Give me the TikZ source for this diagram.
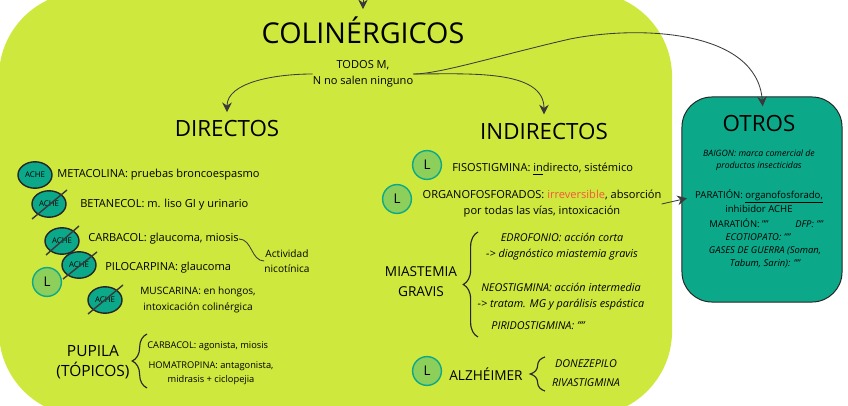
\documentclass[tikz,border=0pt]{standalone}
\usepackage{fontspec}
\setmainfont{Open Sans}
\usetikzlibrary{shapes.geometric, positioning, arrows.meta, decorations.pathreplacing}
\definecolor{panelgreen}{HTML}{CFE83D}
\definecolor{tealbox}{HTML}{0BA98A}
\definecolor{leafgreen}{HTML}{8CCF5A}
\definecolor{arrowgray}{HTML}{3A3A3A}
\definecolor{redword}{HTML}{F2583A}

\begin{document}
\begin{tikzpicture}[
    x=0.025cm, y=-0.025cm,
    panel/.style={draw=none, fill=panelgreen, rectangle, rounded corners=2.125cm, minimum width=16.825cm, minimum height=10.6cm},
    otrosbox/.style={draw=black!85, line width=0.7pt, fill=tealbox, rectangle, rounded corners=0.75cm, minimum width=4cm, minimum height=5.125cm},
    enzyme/.style={draw=black!85, line width=1pt, fill=tealbox, ellipse, minimum width=0.85cm, minimum height=0.66cm, inner sep=0, font=\fontsize{5.6}{6}\selectfont},
    leaf/.style={draw=tealbox, line width=1pt, fill=leafgreen, circle, minimum size=0.72cm, inner sep=0, font=\fontsize{9.5}{10}\selectfont},
    maintitle/.style={inner sep=0, font=\fontsize{20.4}{23}\selectfont},
    subtitle/.style={inner sep=0, font=\fontsize{15.9}{18}\selectfont},
    group/.style={inner sep=0, align=center, font=\fontsize{9.7}{14.2}\selectfont},
    pupilagroup/.style={inner sep=0, align=center, font=\fontsize{11}{14.4}\selectfont},
    body/.style={inner sep=0, align=center, font=\fontsize{7.87}{11.4}\selectfont},
    note/.style={inner sep=0, align=center, font=\fontsize{7.2}{11}\selectfont},
    bodyit/.style={inner sep=0, align=center, font=\fontsize{7.7}{11.4}\selectfont\itshape},
    small/.style={inner sep=0, align=center, font=\fontsize{6.6}{10}\selectfont},
    smallit/.style={inner sep=0, align=center, font=\fontsize{6.7}{9.2}\selectfont\itshape},
    baigonit/.style={inner sep=0, align=center, font=\fontsize{6.2}{8.8}\selectfont\itshape},
    arrow/.style={-{Stealth[length=2.4mm, width=2.4mm]}, arrowgray, line width=0.6pt},
    strike/.style={draw=arrowgray, line width=1pt},
    bracket/.style={decorate, decoration={brace, amplitude=10.5pt}, line width=0.8pt, black!85}
]
    \useasboundingbox (0,0) rectangle (848,406);
    \clip (0,0) rectangle (848,406);

    \node[panel] (panel) at (335.5,204) {};
    \node[otrosbox] (otros) at (762,199.5) {};

    % top of the map
    \coordinate (topin) at (363,-12);
    \node[maintitle] (colin) at (363,30) {COLINÉRGICOS};
    \node[body] (todos) at (363,74) {TODOS M,\\N no salen ninguno};
    \node[subtitle] (directos) at (227,129) {DIRECTOS};
    \node[subtitle] (indirectos) at (544,132) {INDIRECTOS};
    \coordinate (otrosbend) at (570,39);

    \draw[arrow, shorten >=5pt] (topin) -- (colin.north);
    \draw[arrow, shorten >=6pt] (todos.west) to[out=180, in=90] (directos.north);
    \draw[arrow, shorten >=6.5pt] (todos.east) to[out=0, in=90] (indirectos.north);
    \draw[arrow, shorten >=-7pt] (todos.east) .. controls (440,74) and (500,55) .. (otrosbend) .. controls (640,25) and (757,30) .. (otros.north);

    % directos
    \node[enzyme] (ache1) at (35,175) {ACHE};
    \node[enzyme] (ache2) at (49,204) {ACHE};
    \node[enzyme] (ache3) at (62,241) {ACHE};
    \node[enzyme] (ache4) at (79,265) {ACHE};
    \node[enzyme] (ache5) at (105,300) {ACHE};
    \node[leaf] (lpilo) at (47,282) {L};

    \draw[strike] ([shift={(-17,15)}]ache2.center) -- ([shift={(18,-14)}]ache2.center);
    \draw[strike] ([shift={(-16,14)}]ache3.center) -- ([shift={(17,-15)}]ache3.center);
    \draw[strike] ([shift={(-16,14)}]ache4.center) -- ([shift={(18,-13)}]ache4.center);
    \draw[strike] ([shift={(-17,14)}]ache5.center) -- ([shift={(18,-15)}]ache5.center);

    \node[body, anchor=west] (metacolina) at (57,175) {METACOLINA: pruebas broncoespasmo};
    \node[body, anchor=west] (betanecol) at (80,205) {BETANECOL: m. liso GI y urinario};
    \node[body, anchor=west] (carbacol) at (88,239) {CARBACOL: glaucoma, miosis};
    \node[body, anchor=west] (pilocarpina) at (105,268) {PILOCARPINA: glaucoma};
    \node[note] (muscarina) at (198,300) {MUSCARINA: en hongos,\\intoxicación colinérgica};
    \node[note] (nicotinica) at (287,261) {Actividad\\nicotínica};
    \draw[arrowgray, line width=0.6pt] (carbacol.east) to[out=0, in=180] (nicotinica.west);

    \node[pupilagroup] (pupila) at (93,362) {PUPILA\\(TÓPICOS)};
    \coordinate (pupilatop) at (147,334);
    \coordinate (pupilabot) at (147,388);
    \draw[bracket, decoration={mirror}] (pupilatop) -- (pupilabot);
    \node[small, anchor=west] (carbtopico) at (147,346) {CARBACOL: agonista, miosis};
    \node[small] (homatropina) at (211,373) {HOMATROPINA: antagonista,\\midrasis + ciclopejia};

    % indirectos
    \node[leaf] (lfiso) at (427,165) {L};
    \node[body, anchor=west] (fisostigmina) at (452,169) {FISOSTIGMINA: \underline{in}directo, sistémico};
    \node[leaf] (lorgano) at (397,199) {L};
    \node[body] (organo) at (542,204) {ORGANOFOSFORADOS: \textcolor{redword}{irreversible}, absorción\\por todas las vías, intoxicación};
    \draw[arrow, shorten >=-4pt] (organo.east) -- (otros.west);

    \node[group] (miastemia) at (421,282) {MIASTEMIA\\GRAVIS};
    \coordinate (miasttop) at (478,232);
    \coordinate (miastbot) at (478,337);
    \draw[bracket, decoration={mirror}] (miasttop) -- (miastbot);
    \node[bodyit] (edrofonio) at (562,247) {EDROFONIO: acción corta\\-> diagnóstico miastemia gravis};
    \node[bodyit] (neostigmina) at (561,297) {NEOSTIGMINA: acción intermedia\\-> tratam. MG y parálisis espástica};
    \node[bodyit] (piridostigmina) at (538,326) {PIRIDOSTIGMINA: ""};

    \node[leaf] (lalz) at (427,371) {L};
    \node[group] (alzheimer) at (486,374) {ALZHÉIMER};
    \coordinate (alztop) at (545,357);
    \coordinate (alzbot) at (545,391);
    \draw[bracket, decoration={mirror}] (alztop) -- (alzbot);
    \node[bodyit] (donezepilo) at (586,364) {DONEZEPILO};
    \node[bodyit] (rivastigmina) at (586,383) {RIVASTIGMINA};

    % otros
    \node[subtitle] (otrostitle) at (759,124) {OTROS};
    \node[baigonit] (baigon) at (759,160) {BAIGON: marca comercial de\\productos insecticidas};
    \node[small, font=\fontsize{6.8}{10}\selectfont] (paration) at (759,201) {PARATIÓN: \underline{organofosforado,}\\inhibidor ACHE};
    \node[smallit, anchor=west] (maration) at (709,223) {\upshape MARATIÓN: ""\hspace{19pt}\itshape DFP: ""};
    \node[smallit] (ecotiopato) at (758,237) {ECOTIOPATO: ""};
    \node[smallit] (gases) at (765,257.5) {GASES DE GUERRA (Soman,\\Tabum, Sarin): ""};
\end{tikzpicture}
\end{document}
